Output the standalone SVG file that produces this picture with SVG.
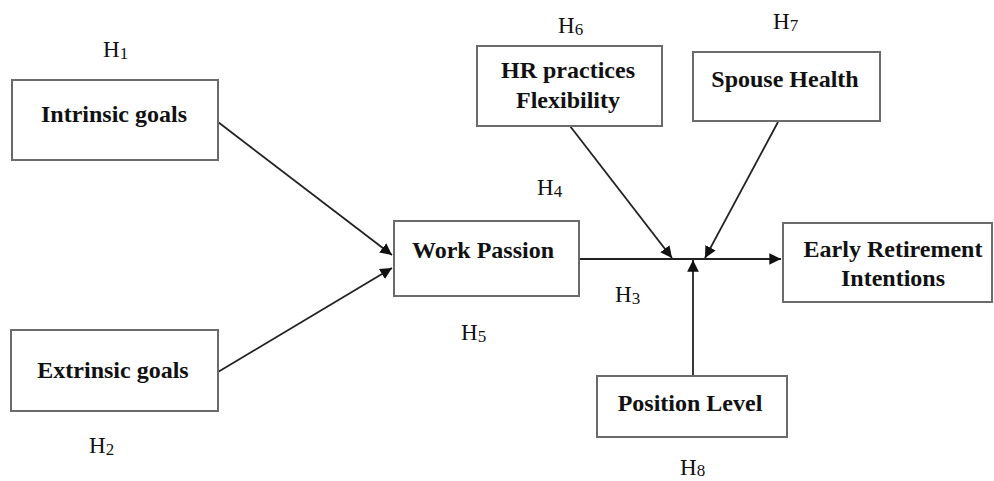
<svg xmlns="http://www.w3.org/2000/svg" width="994" height="481" viewBox="0 0 994 481">
<style>
.box{fill:#fff;stroke:#6b6b6b;stroke-width:2}
.lbl{font-family:"Liberation Serif","Times New Roman",serif;font-weight:bold;font-size:24px;fill:#111;text-anchor:middle}
.h{font-family:"Liberation Serif","Times New Roman",serif;font-size:23px;fill:#111}
.sub{font-size:17px}
.ln{stroke:#222;stroke-width:1.8;fill:none}
</style>
<defs>
<marker id="ah" viewBox="0 0 10 10" refX="10" refY="5" markerWidth="6.5" markerHeight="6.5" orient="auto" markerUnits="strokeWidth">
<path d="M0,0 L10,5 L0,10 z" fill="#111"/>
</marker>
</defs>
<rect width="994" height="481" fill="#fff"/>
<g id="connectors">
<line class="ln" x1="218" y1="122" x2="392" y2="255" marker-end="url(#ah)"/>
<line class="ln" x1="218" y1="372" x2="392" y2="268" marker-end="url(#ah)"/>
<line class="ln" x1="579" y1="259" x2="781" y2="259" marker-end="url(#ah)"/>
<line class="ln" x1="570" y1="126" x2="672" y2="258" marker-end="url(#ah)"/>
<line class="ln" x1="778" y1="122" x2="705" y2="258" marker-end="url(#ah)"/>
<line class="ln" x1="693" y1="376" x2="693" y2="260" marker-end="url(#ah)"/>
</g>
<g id="intrinsic">
<rect class="box" x="12" y="80" width="206" height="80"/>
<text class="lbl" x="114" y="122">Intrinsic goals</text>
</g>
<g id="extrinsic">
<rect class="box" x="11" y="330" width="207" height="81"/>
<text class="lbl" x="113" y="378">Extrinsic goals</text>
</g>
<g id="workpassion">
<rect class="box" x="394" y="221" width="185" height="75"/>
<text class="lbl" x="483" y="258">Work Passion</text>
</g>
<g id="hr">
<rect class="box" x="477" y="46" width="185" height="80"/>
<text class="lbl" x="568" y="78">HR practices</text>
<text class="lbl" x="568" y="108">Flexibility</text>
</g>
<g id="spouse">
<rect class="box" x="693" y="52" width="187" height="69"/>
<text class="lbl" x="785" y="87">Spouse Health</text>
</g>
<g id="early">
<rect class="box" x="783" y="223" width="209" height="79"/>
<text class="lbl" x="893" y="257">Early Retirement</text>
<text class="lbl" x="893" y="286">Intentions</text>
</g>
<g id="position">
<rect class="box" x="597" y="376" width="190" height="61"/>
<text class="lbl" x="690" y="411">Position Level</text>
</g>
<g id="hlabels">
<text class="h" x="103" y="57">H<tspan class="sub" dy="2">1</tspan></text>
<text class="h" x="89" y="453">H<tspan class="sub" dy="2">2</tspan></text>
<text class="h" x="615" y="302">H<tspan class="sub" dy="2">3</tspan></text>
<text class="h" x="537" y="195">H<tspan class="sub" dy="2">4</tspan></text>
<text class="h" x="461" y="340">H<tspan class="sub" dy="2">5</tspan></text>
<text class="h" x="558" y="33">H<tspan class="sub" dy="2">6</tspan></text>
<text class="h" x="773" y="29">H<tspan class="sub" dy="2">7</tspan></text>
<text class="h" x="680" y="475">H<tspan class="sub" dy="1">8</tspan></text>
</g>
</svg>
